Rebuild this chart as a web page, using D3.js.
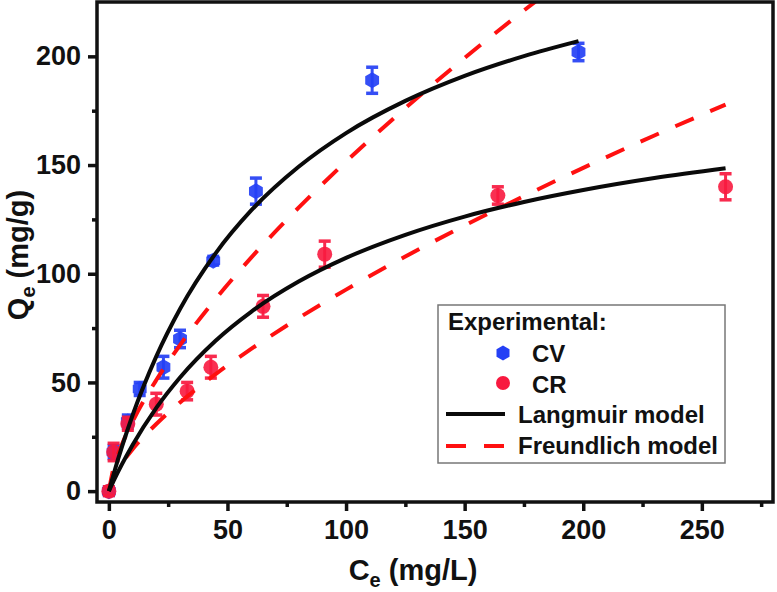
<!DOCTYPE html>
<html>
<head>
<meta charset="utf-8">
<script src="https://cdn.jsdelivr.net/npm/d3@7/dist/d3.min.js"></script>
<style>
  html, body { margin: 0; padding: 0; background: #fff; }
  svg { display: block; font-family: "Liberation Sans", Arial, sans-serif; }
</style>
</head>
<body>
<svg id="chart" width="777" height="592"></svg>
<script>
// ---- Data ----
const cvCe  = [0, 2, 8, 13, 23, 30, 44, 62, 111, 198];
const cvQe  = [0, 18, 32, 47, 57, 70, 106, 138, 189, 202];
const cvErr = [2, 3, 3, 3, 5, 4, 2, 6, 6, 4];

const crCe  = [0, 2, 8, 20, 33, 43, 65, 91, 164, 260];
const crQe  = [0, 18, 31, 40, 46, 57, 85, 109, 136, 140];
const crErr = [2, 4, 3, 5, 4, 5, 5, 6, 4, 6];

// model curves
const cvLangC = [0, 2, 10, 20, 30, 45, 60, 80, 100, 125, 150, 175, 198];
const cvLangQ = [0, 7.8, 34.9, 62.0, 83.8, 109.4, 129.1, 149.2, 164.7, 179.5, 191.0, 200.1, 207.0];
const crLangC = [0, 2, 10, 20, 30, 45, 60, 80, 100, 125, 150, 175, 200, 230, 260];
const crLangQ = [0, 4.7, 21.2, 38.3, 52.3, 69.2, 82.5, 96.4, 107.3, 117.9, 126.3, 133.0, 138.5, 144.0, 148.5];
const cvFreuC = [0, 2, 5, 10, 20, 30, 45, 60, 80, 100, 125, 150, 175, 198];
const cvFreuQ = [0, 10.8, 20.1, 32.0, 51.1, 67.2, 88.4, 107.4, 130.4, 151.6, 176.2, 199.3, 221.1, 240.3];
const crFreuC = [0, 2, 5, 10, 20, 30, 45, 60, 80, 100, 125, 150, 175, 200, 230, 260];
const crFreuQ = [0, 6.4, 12.0, 19.3, 30.9, 40.8, 53.8, 65.4, 79.6, 92.7, 107.9, 122.2, 135.7, 148.7, 163.6, 177.8];

const xTicks = [0, 50, 100, 150, 200, 250];
const xMinor = [25, 75, 125, 175, 225, 275];
const yTicks = [0, 50, 100, 150, 200];
const yMinor = [25, 75, 125, 175];

const legendLabels = ["Experimental:", "CV", "CR", "Langmuir model", "Freundlich model"];

// ---- Layout ----
const W = 777, H = 592;
const m = { left: 97, top: 2, right: 4, bottom: 90 };
const iw = W - m.left - m.right, ih = H - m.top - m.bottom;

const BLUE = "#2440f5", RED = "#f8193f";

const svg = d3.select("#chart");
const g = svg.append("g").attr("transform", `translate(${m.left},${m.top})`);

const x = d3.scaleLinear().domain([-5, 280]).range([0, iw]);
const y = d3.scaleLinear().domain([-5, 225]).range([ih, 0]);

svg.append("defs").append("clipPath").attr("id", "clip")
  .append("rect").attr("width", iw).attr("height", ih);

// axes
const tickFont = g => g.selectAll("text")
  .style("font-size", "27px").style("font-weight", "bold").attr("fill", "#111");

const xAx = g.append("g").attr("transform", `translate(0,${ih})`)
  .call(d3.axisBottom(x).tickValues(xTicks).tickSize(9).tickPadding(9).tickFormat(d3.format("d")));
xAx.call(tickFont);
const xAxm = g.append("g").attr("transform", `translate(0,${ih})`)
  .call(d3.axisBottom(x).tickValues(xMinor).tickSize(5).tickFormat(""));
const yAx = g.append("g")
  .call(d3.axisLeft(y).tickValues(yTicks).tickSize(9).tickPadding(7).tickFormat(d3.format("d")));
yAx.call(tickFont);
const yAxm = g.append("g")
  .call(d3.axisLeft(y).tickValues(yMinor).tickSize(5).tickFormat(""));
[xAx, xAxm, yAx, yAxm].forEach(a => {
  a.select(".domain").remove();
  a.selectAll("line").attr("stroke", "#111").attr("stroke-width", 3.5);
});

// data points
const plot = g.append("g").attr("clip-path", "url(#clip)");

function errorBars(xs, ys, es, color) {
  const gg = plot.append("g").attr("stroke", color).attr("stroke-width", 3).attr("opacity", 0.92);
  xs.forEach((c, i) => {
    const px = x(c);
    gg.append("line").attr("x1", px).attr("x2", px).attr("y1", y(ys[i] - es[i])).attr("y2", y(ys[i] + es[i]));
    gg.append("line").attr("x1", px - 6).attr("x2", px + 6).attr("y1", y(ys[i] - es[i])).attr("y2", y(ys[i] - es[i])).attr("stroke-width", 3.5);
    gg.append("line").attr("x1", px - 6).attr("x2", px + 6).attr("y1", y(ys[i] + es[i])).attr("y2", y(ys[i] + es[i])).attr("stroke-width", 3.5);
  });
}
function hexPath(r) {
  const pts = d3.range(6).map(k => {
    const a = Math.PI / 6 + k * Math.PI / 3;
    return [r * Math.cos(a), r * Math.sin(a)];
  });
  return "M" + pts.map(p => p.join(",")).join("L") + "Z";
}

errorBars(cvCe, cvQe, cvErr, BLUE);
plot.append("g").selectAll("path").data(cvCe).join("path")
  .attr("d", hexPath(8))
  .attr("transform", (d, i) => `translate(${x(d)},${y(cvQe[i])})`)
  .attr("fill", BLUE).attr("opacity", 0.92);

errorBars(crCe, crQe, crErr, RED);
plot.append("g").selectAll("circle").data(crCe).join("circle")
  .attr("cx", d => x(d)).attr("cy", (d, i) => y(crQe[i])).attr("r", 7.5)
  .attr("fill", RED).attr("opacity", 0.9);

// model curves
const line = d3.line().x(d => x(d[0])).y(d => y(d[1])).curve(d3.curveMonotoneX);
function drawCurve(cs, qs, color, dash) {
  plot.append("path").datum(cs.map((c, i) => [c, qs[i]]))
    .attr("d", line).attr("fill", "none")
    .attr("stroke", color).attr("stroke-width", 4)
    .attr("stroke-dasharray", dash || null);
}
drawCurve(cvFreuC, cvFreuQ, "#ff1010", "20,18");
drawCurve(crFreuC, crFreuQ, "#ff1010", "20,18");
drawCurve(cvLangC, cvLangQ, "#0a0a0a");
drawCurve(crLangC, crLangQ, "#0a0a0a");

// frame
g.append("rect").attr("width", iw).attr("height", ih)
  .attr("fill", "none").attr("stroke", "#111").attr("stroke-width", 3.5);

// axis titles
const xt = svg.append("text").attr("x", 413).attr("y", 580).attr("text-anchor", "middle")
  .style("font-size", "29px").style("font-weight", "bold").attr("fill", "#111");
xt.append("tspan").text("C");
xt.append("tspan").text("e").style("font-size", "20px").attr("dy", 7);
xt.append("tspan").text(" (mg/L)").attr("dy", -7);

const yt = svg.append("text").attr("transform", "translate(28,255) rotate(-90)").attr("text-anchor", "middle")
  .style("font-size", "29px").style("font-weight", "bold").attr("fill", "#111");
yt.append("tspan").text("Q");
yt.append("tspan").text("e").style("font-size", "20px").attr("dy", 7);
yt.append("tspan").text(" (mg/g)").attr("dy", -7);

// legend
const lg = svg.append("g");
lg.append("rect").attr("x", 438).attr("y", 305).attr("width", 287).attr("height", 158)
  .attr("fill", "#fff").attr("stroke", "#777").attr("stroke-width", 1.5);
const lt = (tx, ty, s) => lg.append("text").attr("x", tx).attr("y", ty).text(s)
  .style("font-size", "24px").style("font-weight", "bold").attr("fill", "#111");
lt(448, 330, legendLabels[0]);
lg.append("path").attr("d", hexPath(7.5)).attr("transform", "translate(503,353)").attr("fill", BLUE);
lt(532, 362, legendLabels[1]);
lg.append("circle").attr("cx", 503).attr("cy", 383).attr("r", 7).attr("fill", RED);
lt(532, 393, legendLabels[2]);
lg.append("line").attr("x1", 446).attr("x2", 505).attr("y1", 414).attr("y2", 414)
  .attr("stroke", "#0a0a0a").attr("stroke-width", 4);
lt(518, 423, legendLabels[3]);
lg.append("line").attr("x1", 446).attr("x2", 505).attr("y1", 446).attr("y2", 446)
  .attr("stroke", "#ff1010").attr("stroke-width", 4).attr("stroke-dasharray", "20,18");
lt(518, 454, legendLabels[4]);
</script>
</body>
</html>
